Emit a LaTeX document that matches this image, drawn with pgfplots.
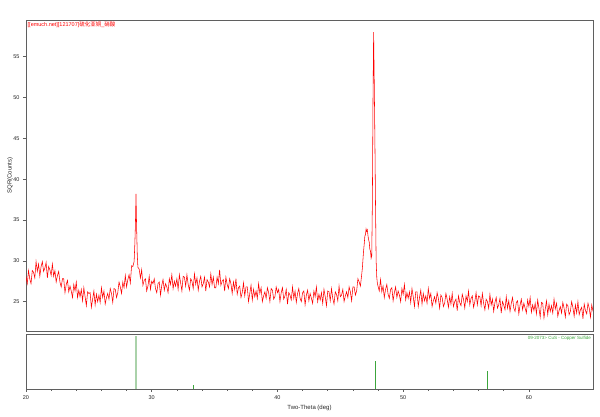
\documentclass[border=0pt]{standalone}
\usepackage{pgfplots}
\pgfplotsset{compat=1.18}
\usepackage{fontspec}
\setmainfont{Liberation Sans}
\newfontfamily\cjk{Noto Sans CJK SC}
\definecolor{xrdred}{RGB}{255,0,0}
\definecolor{framegray}{RGB}{95,95,95}
\definecolor{stickgreen}{RGB}{60,165,60}
\definecolor{stickpale}{RGB}{170,210,170}

\begin{document}
\begin{tikzpicture}
\pgfplotsset{
  xrd/.style={
    scale only axis, width=567pt, anchor=south west,
    xmin=20, xmax=65.1,
    axis line style={framegray, line width=0.8pt},
    tick style={framegray, line width=0.5pt},
    ticklabel style={font=\fontsize{5.5}{6}\selectfont, text=black!85},
    /pgf/number format/assume math mode=true,
    tick align=outside,
    major tick length=3pt, minor tick length=2pt,
  },
}
% measured pattern
\begin{axis}[xrd, at={(26pt,86pt)}, height=311pt,
  ymin=21.4, ymax=59.5,
  ytick={25,30,...,55}, ytick pos=left,
  xtick=\empty,
  ylabel={SQR(Counts)},
  ylabel style={font=\fontsize{6}{7}\selectfont, text=black!85,
    at={(axis description cs:-0.028,0.5)}, anchor=center},
]
\addplot[xrdred, line width=0.55pt] table[row sep=\\] {
x y\\
20.0 28.1\\ 20.1 27.2\\ 20.2 28.8\\ 20.3 27.8\\ 20.4 27.2\\ 20.5 28.8\\ 20.6 28.6\\ 20.7 27.9\\ 20.8 29.9\\ 20.9 28.7\\
21.0 29.6\\ 21.1 28.1\\ 21.2 29.3\\ 21.3 29.9\\ 21.4 28.7\\ 21.5 29.1\\ 21.6 29.8\\ 21.7 27.9\\ 21.8 29.3\\ 21.9 28.9\\
22.0 28.2\\ 22.1 29.6\\ 22.2 28.1\\ 22.3 28.8\\ 22.4 27.4\\ 22.5 28.2\\ 22.6 28.7\\ 22.7 27.4\\ 22.8 26.8\\ 22.9 27.8\\
23.0 27.8\\ 23.1 26.1\\ 23.2 27.1\\ 23.3 27.6\\ 23.4 26.2\\ 23.5 26.9\\ 23.6 26.3\\ 23.7 25.5\\ 23.8 27.1\\ 23.9 26.3\\
24.0 27.4\\ 24.1 25.5\\ 24.2 26.4\\ 24.3 25.6\\ 24.4 26.5\\ 24.5 25.1\\ 24.6 26.7\\ 24.7 25.6\\ 24.8 24.5\\ 24.9 26.2\\
25.0 26.0\\ 25.1 26.1\\ 25.2 24.3\\ 25.3 25.3\\ 25.4 26.3\\ 25.5 24.6\\ 25.6 25.9\\ 25.7 25.0\\ 25.8 25.8\\ 25.9 24.9\\
26.0 26.7\\ 26.1 25.5\\ 26.2 26.3\\ 26.3 24.7\\ 26.4 25.5\\ 26.5 26.0\\ 26.6 25.3\\ 26.7 26.6\\ 26.8 26.0\\ 26.9 24.9\\
27.0 26.6\\ 27.1 26.5\\ 27.2 25.5\\ 27.3 26.1\\ 27.4 27.4\\ 27.5 26.8\\ 27.6 26.0\\ 27.7 27.4\\ 27.8 26.7\\ 27.9 28.2\\
28.0 26.8\\ 28.1 27.7\\ 28.2 28.3\\ 28.3 27.3\\ 28.4 29.4\\ 28.5 29.3\\ 28.6 29.9\\ 28.65 31.8\\ 28.7 34.2\\ 28.75 38.2\\
28.8 34.0\\ 28.85 30.8\\ 28.9 29.2\\ 29.0 29.0\\ 29.1 27.9\\ 29.2 28.9\\ 29.3 27.0\\ 29.4 27.6\\ 29.5 27.8\\ 29.6 26.3\\
29.7 26.9\\ 29.8 28.1\\ 29.9 26.5\\ 30.0 27.5\\ 30.1 27.2\\ 30.2 27.8\\ 30.3 26.6\\ 30.4 26.1\\ 30.5 27.2\\ 30.6 27.4\\
30.7 25.8\\ 30.8 27.0\\ 30.9 27.7\\ 31.0 26.4\\ 31.1 27.2\\ 31.2 26.8\\ 31.3 26.1\\ 31.4 27.8\\ 31.5 27.1\\ 31.6 28.3\\
31.7 26.6\\ 31.8 27.5\\ 31.9 26.9\\ 32.0 27.8\\ 32.1 26.5\\ 32.2 28.3\\ 32.3 27.3\\ 32.4 26.3\\ 32.5 28.1\\ 32.6 28.0\\
32.7 26.9\\ 32.8 28.3\\ 32.9 27.1\\ 33.0 26.4\\ 33.1 27.8\\ 33.2 27.5\\ 33.3 26.6\\ 33.4 28.4\\ 33.5 27.1\\ 33.6 27.9\\
33.7 26.4\\ 33.8 27.5\\ 33.9 28.1\\ 34.0 26.8\\ 34.1 27.2\\ 34.2 28.0\\ 34.3 26.3\\ 34.4 27.7\\ 34.5 27.4\\ 34.6 26.8\\
34.7 28.4\\ 34.8 27.1\\ 34.9 28.0\\ 35.0 26.7\\ 35.1 26.7\\ 35.2 28.0\\ 35.3 27.2\\ 35.4 28.9\\ 35.5 27.0\\ 35.6 27.5\\
35.7 27.7\\ 35.8 26.3\\ 35.9 28.0\\ 36.0 27.1\\ 36.1 26.6\\ 36.2 27.8\\ 36.3 27.2\\ 36.4 26.0\\ 36.5 27.4\\ 36.6 26.5\\
36.7 27.8\\ 36.8 25.9\\ 36.9 26.7\\ 37.0 26.9\\ 37.1 25.5\\ 37.2 26.1\\ 37.3 27.3\\ 37.4 25.7\\ 37.5 26.8\\ 37.6 26.8\\
37.7 25.0\\ 37.8 26.0\\ 37.9 27.0\\ 38.0 25.2\\ 38.1 26.5\\ 38.2 25.6\\ 38.3 26.3\\ 38.4 25.4\\ 38.5 27.2\\ 38.6 26.0\\
38.7 26.7\\ 38.8 25.0\\ 38.9 25.7\\ 39.0 26.2\\ 39.1 25.4\\ 39.2 26.7\\ 39.3 26.1\\ 39.4 25.0\\ 39.5 26.6\\ 39.6 26.4\\
39.7 25.3\\ 39.8 25.6\\ 39.9 26.8\\ 40.0 26.1\\ 40.1 26.5\\ 40.2 25.0\\ 40.3 26.1\\ 40.4 26.7\\ 40.5 25.3\\ 40.6 25.7\\
40.7 26.5\\ 40.8 24.7\\ 40.9 26.1\\ 41.0 25.8\\ 41.1 25.2\\ 41.2 26.8\\ 41.3 25.4\\ 41.4 26.3\\ 41.5 24.9\\ 41.6 26.0\\
41.7 26.6\\ 41.8 25.4\\ 41.9 25.0\\ 42.0 26.1\\ 42.1 26.3\\ 42.2 24.6\\ 42.3 25.8\\ 42.4 26.4\\ 42.5 25.1\\ 42.6 26.0\\
42.7 25.4\\ 42.8 24.8\\ 42.9 26.3\\ 43.0 25.6\\ 43.1 26.8\\ 43.2 25.0\\ 43.3 25.9\\ 43.4 25.2\\ 43.5 26.1\\ 43.6 24.8\\
43.7 26.5\\ 43.8 25.6\\ 43.9 24.5\\ 44.0 26.3\\ 44.1 26.2\\ 44.2 25.1\\ 44.3 26.6\\ 44.4 25.4\\ 44.5 24.7\\ 44.6 26.2\\
44.7 25.9\\ 44.8 25.1\\ 44.9 26.9\\ 45.0 25.6\\ 45.1 25.8\\ 45.2 26.5\\ 45.3 25.0\\ 45.4 25.7\\ 45.5 26.2\\ 45.6 25.5\\
45.7 26.8\\ 45.8 26.2\\ 45.9 25.1\\ 46.0 26.8\\ 46.1 26.8\\ 46.2 25.8\\ 46.3 26.3\\ 46.4 27.8\\ 46.5 27.4\\ 46.6 26.9\\
46.7 28.3\\ 46.75 29.0\\ 46.8 30.1\\ 46.85 31.2\\ 46.9 32.0\\ 46.95 33.0\\ 47.0 33.2\\ 47.05 33.9\\ 47.1 33.6\\ 47.15 33.8\\
47.2 33.1\\ 47.25 32.6\\ 47.3 32.3\\ 47.35 31.4\\ 47.4 31.2\\ 47.45 30.3\\ 47.5 30.6\\ 47.55 37.0\\ 47.6 49.5\\ 47.65 58.0\\
47.7 52.0\\ 47.75 45.0\\ 47.8 37.0\\ 47.85 30.0\\ 47.9 28.0\\ 47.95 27.2\\ 48.0 26.9\\ 48.1 26.3\\ 48.2 27.7\\ 48.3 26.2\\
48.4 26.9\\ 48.5 25.5\\ 48.6 26.5\\ 48.7 27.1\\ 48.8 25.9\\ 48.9 25.4\\ 49.0 26.5\\ 49.1 26.7\\ 49.2 25.1\\ 49.3 26.1\\
49.4 26.8\\ 49.5 25.5\\ 49.6 26.3\\ 49.7 25.8\\ 49.8 25.0\\ 49.9 26.6\\ 50.0 25.9\\ 50.1 27.1\\ 50.2 25.2\\ 50.3 26.1\\
50.4 25.4\\ 50.5 26.2\\ 50.6 24.9\\ 50.7 26.6\\ 50.8 25.6\\ 50.9 24.4\\ 51.0 26.2\\ 51.1 26.2\\ 51.2 24.4\\ 51.3 25.5\\
51.4 26.4\\ 51.5 24.7\\ 51.6 26.0\\ 51.7 25.1\\ 51.8 25.7\\ 51.9 24.8\\ 52.0 26.6\\ 52.1 25.4\\ 52.2 26.0\\ 52.3 24.4\\
52.4 25.1\\ 52.5 25.6\\ 52.6 24.8\\ 52.7 26.1\\ 52.8 25.4\\ 52.9 24.2\\ 53.0 25.8\\ 53.1 25.5\\ 53.2 24.4\\ 53.3 24.8\\
53.4 26.0\\ 53.5 25.3\\ 53.6 24.3\\ 53.7 25.6\\ 53.8 24.7\\ 53.9 26.0\\ 54.0 24.4\\ 54.1 25.0\\ 54.2 25.3\\ 54.3 23.9\\
54.4 25.7\\ 54.5 24.9\\ 54.6 24.5\\ 54.7 25.9\\ 54.8 25.3\\ 54.9 24.2\\ 55.0 25.7\\ 55.1 25.0\\ 55.2 26.3\\ 55.3 24.6\\
55.4 25.4\\ 55.5 25.7\\ 55.6 24.3\\ 55.7 25.0\\ 55.8 26.1\\ 55.9 24.6\\ 56.0 25.7\\ 56.1 25.6\\ 56.2 24.5\\ 56.3 26.0\\
56.4 24.8\\ 56.5 24.0\\ 56.6 25.3\\ 56.7 25.0\\ 56.8 24.2\\ 56.9 25.9\\ 57.0 24.6\\ 57.1 25.3\\ 57.2 23.8\\ 57.3 24.9\\
57.4 25.5\\ 57.5 24.2\\ 57.6 24.6\\ 57.7 25.4\\ 57.8 23.6\\ 57.9 25.0\\ 58.0 24.6\\ 58.1 24.0\\ 58.2 25.6\\ 58.3 24.2\\
58.4 25.1\\ 58.5 23.8\\ 58.6 24.8\\ 58.7 25.5\\ 58.8 24.2\\ 58.9 23.8\\ 59.0 24.9\\ 59.1 25.1\\ 59.2 23.5\\ 59.3 24.6\\
59.4 25.3\\ 59.5 24.0\\ 59.6 24.8\\ 59.7 24.2\\ 59.8 23.6\\ 59.9 25.2\\ 60.0 24.4\\ 60.1 25.5\\ 60.2 23.7\\ 60.3 24.6\\
60.4 23.9\\ 60.5 24.8\\ 60.6 23.5\\ 60.7 25.2\\ 60.8 24.2\\ 60.9 23.1\\ 61.0 24.9\\ 61.1 24.8\\ 61.2 23.0\\ 61.3 24.1\\
61.4 25.1\\ 61.5 23.4\\ 61.6 24.7\\ 61.7 23.8\\ 61.8 24.5\\ 61.9 23.6\\ 62.0 25.3\\ 62.1 24.1\\ 62.2 24.8\\ 62.3 23.2\\
62.4 23.9\\ 62.5 24.4\\ 62.6 23.6\\ 62.7 24.9\\ 62.8 24.2\\ 62.9 23.1\\ 63.0 24.7\\ 63.1 24.5\\ 63.2 23.4\\ 63.3 23.8\\
63.4 25.0\\ 63.5 24.3\\ 63.6 23.2\\ 63.7 24.6\\ 63.8 23.6\\ 63.9 25.0\\ 64.0 23.4\\ 64.1 24.0\\ 64.2 24.3\\ 64.3 22.9\\
64.4 24.7\\ 64.5 23.9\\ 64.6 23.5\\ 64.7 24.8\\ 64.8 24.2\\ 64.9 23.1\\ 65.0 24.6\\ 65.1 23.8\\
};
\node[anchor=north west, inner sep=1.5pt, text=xrdred, font=\fontsize{5.5}{6}\selectfont]
  at (rel axis cs:0,1) {[[emuch.net][121707]{\cjk 硫化亚铜}\_{\cjk 硝酸}};
\end{axis}

% reference card sticks
\begin{axis}[xrd, at={(26pt,28pt)}, height=55pt,
  ymin=0, ymax=104.5, ytick=\empty,
  xtick={20,30,...,60}, minor x tick num=4, xtick pos=bottom,
  xlabel={Two-Theta (deg)},
  xlabel style={font=\fontsize{6}{7}\selectfont, text=black!85,
    at={(axis description cs:0.5,0)}, anchor=center, yshift=-19pt},
]
\addplot[ycomb, color=stickpale, mark=none, line width=1.4pt] coordinates {(28.75,100)};
\addplot[ycomb, color=stickgreen, mark=none, line width=1pt] coordinates {(33.3,8)};
\addplot[ycomb, color=stickgreen, mark=none, line width=1pt] coordinates {(47.8,54)};
\addplot[ycomb, color=stickgreen, mark=none, line width=1pt] coordinates {(56.7,33.5)};
\node[anchor=north east, inner sep=2pt, text=stickgreen, font=\fontsize{4.5}{5}\selectfont]
  at (rel axis cs:1,1) {09-2073> CuS - Copper Sulfide};
\end{axis}
\path[use as bounding box] (0pt,0pt) rectangle (600pt,417pt);
\end{tikzpicture}
\end{document}
